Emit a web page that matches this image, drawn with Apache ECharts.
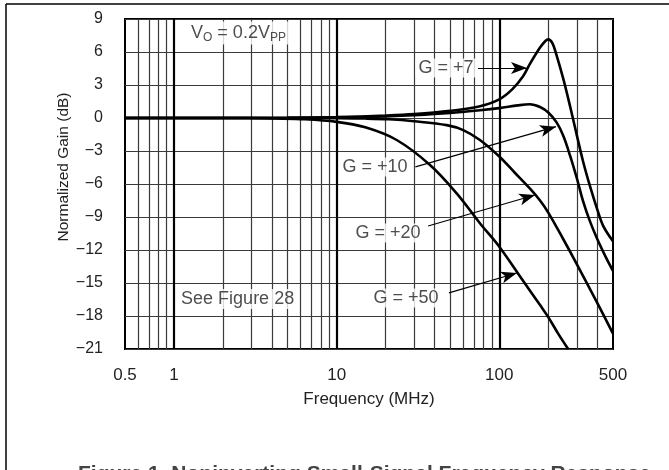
<!DOCTYPE html>
<html><head><meta charset="utf-8">
<script src="https://cdn.jsdelivr.net/npm/echarts@6/dist/echarts.min.js"></script>
<style>html,body{margin:0;padding:0;background:#fff}#c{width:669px;height:470px}</style>
</head><body><div id="c"></div>
<script>
// ---- data (frequency MHz, normalized gain dB) ----
const xTickLabels = [0.5, 1, 10, 100, 500];
const xGridValues = [0.6,0.7,0.8,0.9,1,2,3,4,5,6,7,8,9,10,20,30,40,50,60,70,80,90,100,200,300,400];
const xDecades = [1, 10, 100];
const g7 = [[0.5,0],[2,0],[5,0.02],[10,0.08],[20,0.22],[30,0.35],[50,0.65],[75,1.05],[100,1.7],[120,2.6],[140,3.8],[154,4.9],[178,6.4],[192,7.0],[200,7.15],[212,6.8],[225,5.7],[247,3.6],[272,1.1],[300,-1.6],[328,-4.0],[361,-6.2],[400,-8.3],[435,-9.8],[500,-11.2]];
const g10 = [[0.5,0],[5,0.01],[10,0.05],[20,0.15],[30,0.25],[50,0.45],[76,0.7],[100,0.9],[130,1.15],[154,1.25],[178,1.0],[200,0.5],[225,-0.4],[247,-1.6],[272,-3.4],[300,-5.5],[328,-7.6],[361,-9.4],[400,-11.0],[450,-12.6],[500,-13.9]];
const g20 = [[0.5,0],[5,0],[10,-0.02],[15,-0.05],[21,-0.12],[30,-0.3],[47.5,-0.65],[60,-1.1],[76,-2.0],[100,-3.5],[125,-5.0],[154,-6.4],[178,-7.5],[200,-8.6],[247,-11.0],[300,-13.3],[400,-16.8],[500,-19.6]];
const g50 = [[0.5,0],[2,0],[4,-0.03],[6,-0.1],[10,-0.35],[15,-0.85],[23.4,-2.0],[37.5,-4.27],[54.7,-6.85],[76,-9.57],[100,-11.7],[140,-14.8],[178,-17.0],[200,-18.1],[230,-19.6],[265,-21]];
const arrows = [
  [[74,4.55],[148,4.55]],
  [[30.5,-4.45],[223,-0.79]],
  [[36.5,-9.82],[166,-7.0]],
  [[49,-15.9],[128.4,-14.09]]
];
const curveLabels = [
  {text:'G = +7', at:[47,4.55]},
  {text:'G = +10', at:[17.2,-4.45]},
  {text:'G = +20', at:[20.7,-10.45]},
  {text:'G = +50', at:[26.7,-16.36]}
];
const noteLabels = [
  {text:'{n|V}{s|O}{n| = 0.2V}{s|PP}', at:[1.22,7.73]},
  {text:'{n|See Figure 28}', at:[1.06,-16.45]}
];
const yMin = -21, yMax = 9, yStep = 3;
const caption = 'Figure 1. Noninverting Small-Signal Frequency Response';

const FONT = 'Liberation Sans, Arial, Helvetica, sans-serif';
const chart = echarts.init(document.getElementById('c'));
const fmtY = v => v < 0 ? '\u2212' + (-v) : String(v);
const curve = (name, d) => ({name, type:'line', data:d, smooth:0.35, showSymbol:false, symbol:'none',
  lineStyle:{color:'#000', width:2.6}, z:5, silent:true});

chart.setOption({
  animation:false,
  grid:{left:125, right:56, top:19, bottom:121, show:true, borderColor:'#000', borderWidth:2, backgroundColor:'transparent'},
  xAxis:{type:'log', logBase:10, min:0.5, max:500,
    name:'Frequency (MHz)', nameLocation:'middle', nameGap:42,
    nameTextStyle:{fontFamily:FONT, fontSize:17, color:'#222'},
    axisLine:{show:false}, axisTick:{show:false}, splitLine:{show:false}, minorSplitLine:{show:false},
    axisLabel:{customValues:xTickLabels, fontFamily:FONT, fontSize:17, color:'#222', margin:18,
      formatter:v=>String(Number(Number(v).toPrecision(3)))}},
  yAxis:{type:'value', min:yMin, max:yMax, interval:yStep,
    axisLine:{show:false}, axisTick:{show:false},
    splitLine:{lineStyle:{color:'#3a3a3a', width:1.2}},
    axisLabel:{fontFamily:FONT, fontSize:16, color:'#222', margin:22, formatter:fmtY}},
  graphic:[
    {type:'line', shape:{x1:6,y1:4,x2:669,y2:4}, style:{stroke:'#000', lineWidth:1.5}},
    {type:'line', shape:{x1:6,y1:4,x2:6,y2:470}, style:{stroke:'#000', lineWidth:1.5}},
    {type:'text', x:64, y:167, rotation:Math.PI/2,
      style:{text:'Normalized Gain (dB)', font:'15.5px '+FONT, fill:'#222', textAlign:'center', textVerticalAlign:'middle'}},
    {type:'text', x:78, y:464,
      style:{text:caption, font:'bold 21px '+FONT, fill:'#444', textAlign:'left', textVerticalAlign:'top'}}
  ],
  series:[
    {name:'grid', type:'line', data:[], silent:true, z:1,
      markLine:{silent:true, symbol:'none', label:{show:false}, animation:false,
        data: xGridValues.map(v => ({xAxis:v, lineStyle:{color: xDecades.includes(v)?'#000':'#3a3a3a', width: xDecades.includes(v)?2.2:1.2, type:'solid'}}))}},
    curve('G = +7', g7), curve('G = +10', g10), curve('G = +20', g20), curve('G = +50', g50),
    {name:'arrows', type:'line', data:[], z:6, silent:true,
      markLine:{silent:true, symbol:['none','arrow'], symbolSize:[9,16], label:{show:false}, animation:false,
        lineStyle:{color:'#000', width:1.2, type:'solid'},
        data: arrows.map(a => [{coord:a[0]},{coord:a[1]}])}},
    {name:'labels', type:'scatter', symbolSize:0, z:7, silent:true,
      data: curveLabels.map(l => ({value:l.at, label:{formatter:l.text}})),
      label:{show:true, position:'inside', fontFamily:FONT, fontSize:18, color:'#222',
        backgroundColor:'#fff', padding:[1,3,0,3]}},
    {name:'notes', type:'scatter', symbolSize:0, z:7, silent:true,
      data: noteLabels.map(l => ({value:l.at, label:{formatter:l.text}})),
      label:{show:true, position:'right', distance:0, backgroundColor:'#fff', padding:[1,3,1,3],
        rich:{n:{fontFamily:FONT, fontSize:18, color:'#222'}, s:{fontFamily:FONT, fontSize:12, color:'#222', verticalAlign:'bottom', padding:[9,0,0,0]}}}}
  ]
});
</script></body></html>
